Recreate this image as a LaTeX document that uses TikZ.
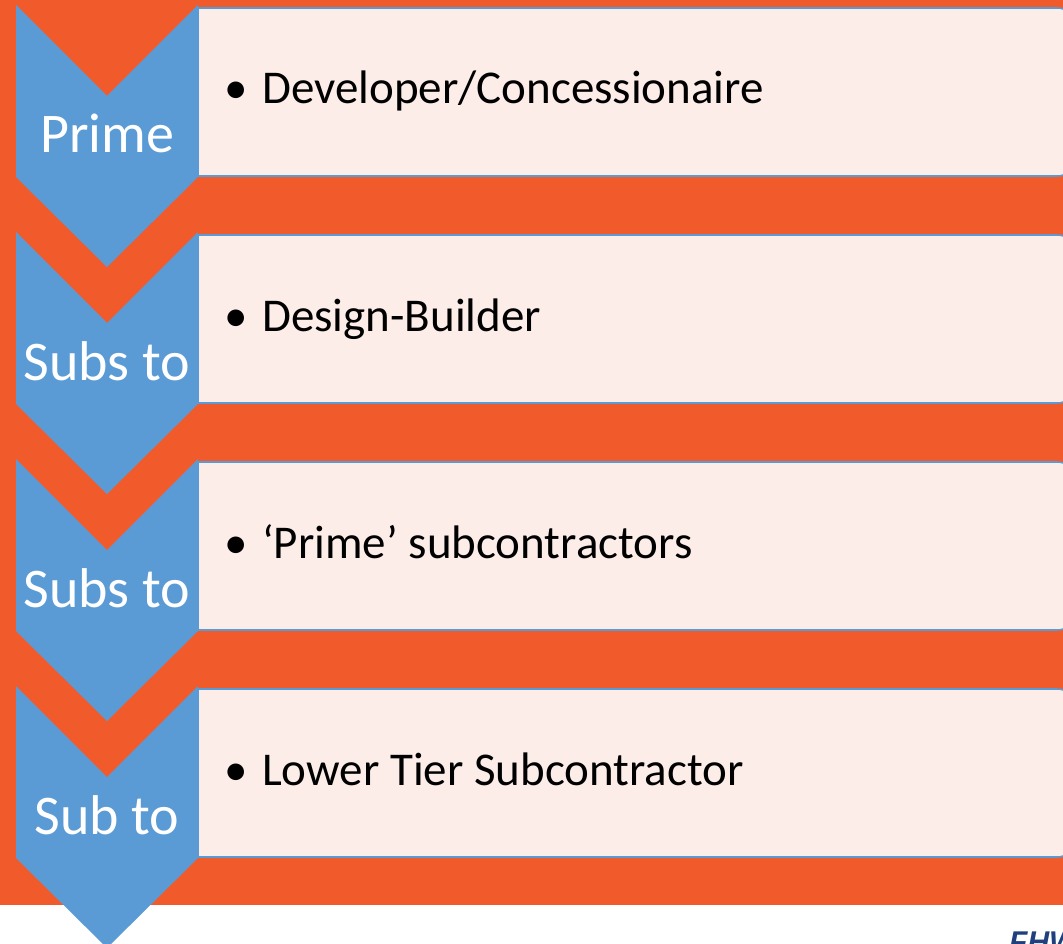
\documentclass[tikz,border=0pt]{standalone}
\usepackage{fontspec}
\setmainfont{Carlito}
\newfontfamily\logofont{Liberation Sans}
\definecolor{bgorange}{RGB}{241,90,43}
\definecolor{chevblue}{RGB}{91,155,213}
\definecolor{boxpink}{RGB}{252,237,233}
\definecolor{logoblue}{RGB}{31,63,125}
\begin{document}
\begin{tikzpicture}[x=1pt,y=-1pt,
  chevron/.style={fill=chevblue},
  tierbox/.style={fill=boxpink, draw=chevblue, line width=1.6pt},
  chevtext/.style={text=white, font=\fontsize{56}{60}\selectfont, anchor=base, inner sep=0pt},
  boxtext/.style={text=black, font=\fontsize{47}{50}\selectfont, anchor=base west, inner sep=0pt}]
\useasboundingbox (0,0) rectangle (1063,944);
\clip (0,0) rectangle (1063,944);
% orange backdrop
\fill[bgorange] (0,0) rectangle (1063,905);
% one tier: chevron on the left, rounded box on the right
\foreach \t/\lab/\txt/\n in {5/Prime/Developer\slash Concessionaire/1,
                             232/Subs to/Design-Builder/2,
                             459/Subs to/`Prime' subcontractors/3,
                             686/Sub to/Lower Tier Subcontractor/4}{
  \filldraw[tierbox] (198,\t+171) -- (198,\t+3) -- (1052,\t+3)
      .. controls (1066,\t+3) .. (1066,\t+17) -- (1066,\t+157)
      .. controls (1066,\t+171) .. (1052,\t+171) -- cycle;
  \fill[chevron] (16,\t) -- (107,\t+91) -- (198,\t) -- (198,\t+172)
      -- (107,\t+262) -- (16,\t+172) -- cycle;
  \node[chevtext] (label\n) at (107,\t+148) {\lab};
  \node[boxtext] (item\n) at (224,\t+99) {•\hspace{0.31em}\txt};
}
% agency logo, cut by the page edge
\node[anchor=north west, inner sep=0pt, text=logoblue,
      font=\logofont\bfseries\itshape\fontsize{30}{30}\selectfont] (logo) at (1009,932) {FHWA};
\end{tikzpicture}
\end{document}
